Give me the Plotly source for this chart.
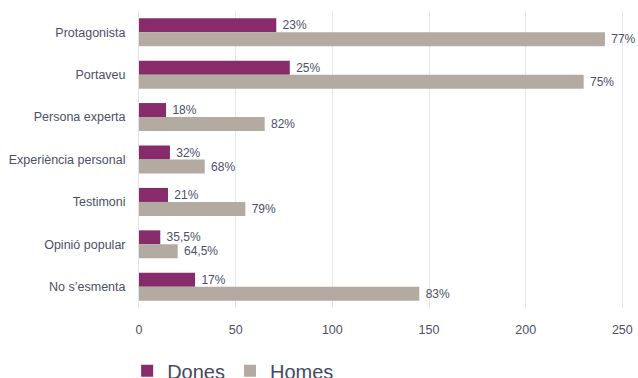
import plotly.graph_objects as go

# Categories and counts by gender
categories = ["Protagonista", "Portaveu", "Persona experta", "Experiència personal",
              "Testimoni", "Opinió popular", "No s’esmenta"]
dones = [71, 78, 14, 16, 15, 11, 29]
homes = [241, 230, 65, 34, 55, 20, 145]
dones_pct = ["23%", "25%", "18%", "32%", "21%", "35,5%", "17%"]
homes_pct = ["77%", "75%", "82%", "68%", "79%", "64,5%", "83%"]
x_ticks = [0, 50, 100, 150, 200, 250]

TEXT = "#4b5068"
FONT = "Liberation Sans, Arial, sans-serif"

fig = go.Figure()
fig.add_trace(go.Bar(
    name="Dones", y=categories, x=dones, orientation="h",
    marker=dict(color="#872b6a", line=dict(width=0)),
    text=dones_pct, texttemplate=" %{text}", textposition="outside",
    cliponaxis=False, textfont=dict(color=TEXT, size=12, family=FONT),
))
fig.add_trace(go.Bar(
    name="Homes", y=categories, x=homes, orientation="h",
    marker=dict(color="#b3aba1", line=dict(width=0)),
    text=homes_pct, texttemplate=" %{text}", textposition="outside",
    cliponaxis=False, textfont=dict(color=TEXT, size=12, family=FONT),
))

fig.update_layout(
    width=638, height=378,
    margin=dict(l=139, r=6, t=11, b=70, autoexpand=False),
    paper_bgcolor="white", plot_bgcolor="white",
    barmode="group", bargap=0.34, bargroupgap=0,
    font=dict(family=FONT, color=TEXT, size=12.5),
    showlegend=True,
    legend=dict(orientation="h", x=-0.024, xanchor="left", y=-0.146, yanchor="top",
                font=dict(size=20, color="#454a5e"), itemwidth=30,
                bgcolor="rgba(0,0,0,0)"),
    xaxis=dict(range=[0, 255], tickvals=x_ticks, showgrid=True,
               gridcolor="#e3e7ee", gridwidth=1, zeroline=False,
               showline=False, ticklabelstandoff=12,
               tickfont=dict(size=12.5, color=TEXT)),
    yaxis=dict(autorange="reversed", showgrid=False, showline=True,
               linecolor="#dfe3ea", linewidth=1, ticklabelstandoff=10,
               tickfont=dict(size=12.5, color=TEXT)),
)

fig.write_html("out.html")
